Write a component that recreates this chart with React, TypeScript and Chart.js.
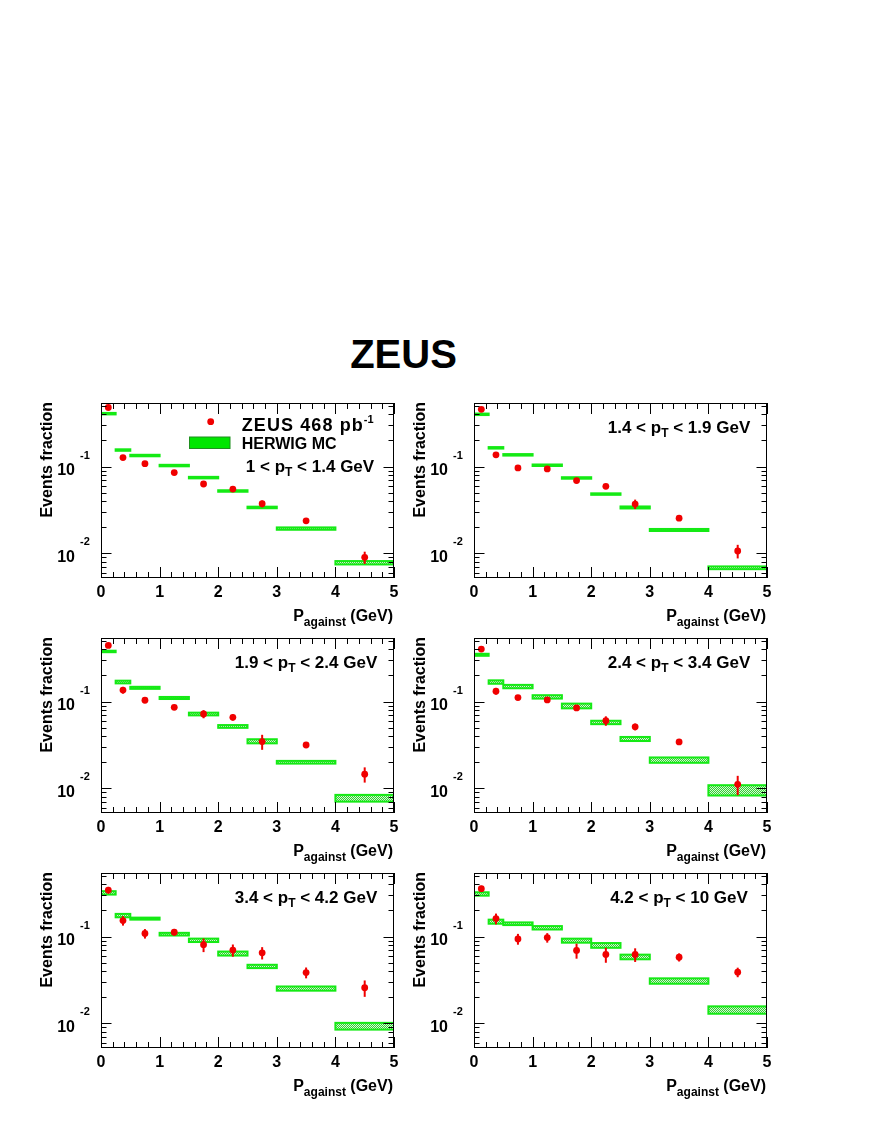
import React, { useEffect, useRef } from "react";
import { Chart, registerables } from "chart.js";
Chart.register(...registerables);

const FONT = '"Liberation Sans", Arial, Helvetica, sans-serif';
const RED = "#f00000";
const GREEN = "#14ea14";

// ---- data ----
const binEdges = [0, 0.25, 0.5, 1, 1.5, 2, 2.5, 3, 4, 5];
const binCenters = [0.125, 0.375, 0.75, 1.25, 1.75, 2.25, 2.75, 3.5, 4.5];
const xTickValues = [0, 1, 2, 3, 4, 5];
const yLabelExponents = [-2, -1];
const ptLow = ["1", "1.4", "1.9", "2.4", "3.4", "4.2"];
const ptHigh = ["1.4", "1.9", "2.4", "3.4", "4.2", "10"];
const yRange = [0.0052, 0.54];

const zeus1 = [0.479, 0.127, 0.108, 0.0853, 0.063, 0.0551, 0.0373, 0.0237, 0.009];
const zeusErr1 = [0.0128, 0.0045, 0.0029, 0.0023, 0.0017, 0.002, 0.0033, 0.0013, 0.00145];
const mc1 = [0.407, 0.155, 0.134, 0.1027, 0.0746, 0.0523, 0.0338, 0.0193, 0.0078];
const mcErr1 = [0.006, 0.0025, 0.002, 0.0016, 0.0012, 0.0009, 0.0007, 0.0006, 0.00035];

const zeus2 = [0.457, 0.1365, 0.0965, 0.094, 0.0689, 0.0592, 0.037, 0.0254, 0.01064];
const zeusErr2 = [0.0122, 0.0049, 0.0026, 0.0025, 0.0025, 0.0021, 0.0046, 0.0018, 0.0019];
const mc2 = [0.4, 0.1644, 0.1365, 0.1036, 0.0739, 0.0482, 0.0338, 0.0186, 0.00682];
const mcErr2 = [0.006, 0.0026, 0.002, 0.0016, 0.0012, 0.0008, 0.0009, 0.0005, 0.00025];

const zeus3 = [0.443, 0.1355, 0.1036, 0.0859, 0.0719, 0.0658, 0.0346, 0.0316, 0.01455];
const zeusErr3 = [0.0158, 0.0121, 0.0056, 0.0054, 0.0077, 0.0053, 0.0068, 0.002, 0.0029];
const mc3 = [0.378, 0.168, 0.144, 0.11, 0.0719, 0.0517, 0.0349, 0.02, 0.00772];
const mcErr3 = [0.0068, 0.006, 0.0039, 0.003, 0.0026, 0.0019, 0.0019, 0.00072, 0.00069];

const zeus4 = [0.403, 0.1318, 0.1113, 0.1045, 0.0844, 0.0601, 0.0512, 0.0343, 0.01114];
const zeusErr4 = [0.0144, 0.0118, 0.005, 0.0037, 0.006, 0.0075, 0.0046, 0.0024, 0.0028];
const mc4 = [0.346, 0.168, 0.149, 0.1133, 0.0891, 0.0575, 0.0371, 0.0212, 0.00957];
const mcErr4 = [0.0093, 0.0076, 0.0067, 0.0051, 0.0056, 0.0026, 0.002, 0.0015, 0.0013];

const zeus5 = [0.343, 0.1528, 0.1084, 0.1124, 0.0806, 0.0698, 0.065, 0.0385, 0.0257];
const zeusErr5 = [0.0306, 0.0191, 0.0136, 0.01, 0.0144, 0.0112, 0.0105, 0.0055, 0.0055];
const mc5 = [0.319, 0.1746, 0.161, 0.1066, 0.0906, 0.0638, 0.0453, 0.0252, 0.0093];
const mcErr5 = [0.0144, 0.0079, 0.0043, 0.0038, 0.0041, 0.0034, 0.002, 0.0014, 0.00083];

const zeus6 = [0.356, 0.161, 0.094, 0.0973, 0.0692, 0.0621, 0.0621, 0.0578, 0.0389];
const zeusErr6 = [0.0286, 0.023, 0.0134, 0.0122, 0.0136, 0.0122, 0.0111, 0.0062, 0.0049];
const mc6 = [0.31, 0.1486, 0.1406, 0.1263, 0.0898, 0.0792, 0.0583, 0.0308, 0.0143];
const mcErr6 = [0.014, 0.008, 0.005, 0.0057, 0.0048, 0.005, 0.0036, 0.0022, 0.0014];

const ZEUS_VALUES = [zeus1, zeus2, zeus3, zeus4, zeus5, zeus6];
const ZEUS_ERRS = [zeusErr1, zeusErr2, zeusErr3, zeusErr4, zeusErr5, zeusErr6];
const MC_VALUES = [mc1, mc2, mc3, mc4, mc5, mc6];
const MC_ERRS = [mcErr1, mcErr2, mcErr3, mcErr4, mcErr5, mcErr6];

// ---- layout ----
const COL_LEFT = [101, 474];
const ROW_TOP = [403, 638, 873];
const PLOT_W = 293;
const PLOT_H = 175;
const PAD_L = 80;
const PAD_T = 12;
const PAD_R = 14;
const XAXIS_H = 60;
const CW = PAD_L + PLOT_W + PAD_R;
const CH = PAD_T + PLOT_H + XAXIS_H;

type Run = { text: string; size: number; dy: number; ls?: number };

function runWidth(ctx: any, r: Run) {
  ctx.font = `bold ${r.size}px ${FONT}`;
  return ctx.measureText(r.text).width + (r.ls || 0) * r.text.length;
}

function drawRuns(ctx: any, runs: Run[], x: number, y: number, align: string) {
  let total = 0;
  for (const r of runs) total += runWidth(ctx, r);
  let cx = align === "right" ? x - total : align === "center" ? x - total / 2 : x;
  ctx.textAlign = "left";
  ctx.textBaseline = "alphabetic";
  for (const r of runs) {
    ctx.font = `bold ${r.size}px ${FONT}`;
    if (r.ls) {
      for (const ch of r.text) {
        ctx.fillText(ch, cx, y + r.dy);
        cx += ctx.measureText(ch).width + r.ls;
      }
    } else {
      ctx.fillText(r.text, cx, y + r.dy);
      cx += ctx.measureText(r.text).width;
    }
  }
}

function makePattern(): any {
  const c = document.createElement("canvas");
  c.width = 2;
  c.height = 2;
  const g = c.getContext("2d");
  if (!g) return GREEN;
  g.fillStyle = "#2fd82f";
  g.fillRect(0, 0, 2, 2);
  g.fillStyle = "#d6f0d6";
  g.fillRect(0, 0, 1, 1);
  g.fillRect(1, 1, 1, 1);
  const p = g.createPattern(c, "repeat");
  return p || GREEN;
}

function makeDecor(i: number, pattern: any) {
  const mc = MC_VALUES[i];
  const mcErr = MC_ERRS[i];
  const zv = ZEUS_VALUES[i];
  const ze = ZEUS_ERRS[i];
  return {
    id: "decor" + i,
    beforeDatasetsDraw(chart: any) {
      const { ctx, chartArea: a } = chart;
      const x = chart.scales.x;
      const y = chart.scales.y;
      ctx.save();
      ctx.beginPath();
      ctx.rect(a.left, a.top, a.right - a.left, a.bottom - a.top);
      ctx.clip();
      for (let k = 0; k < mc.length; k++) {
        const x0 = x.getPixelForValue(binEdges[k]);
        const x1 = x.getPixelForValue(binEdges[k + 1]);
        let yt = y.getPixelForValue(mc[k] + mcErr[k]);
        let yb = y.getPixelForValue(mc[k] - mcErr[k]);
        if (yb - yt < 1.5) {
          const c = (yt + yb) / 2;
          yt = c - 0.75;
          yb = c + 0.75;
        }
        ctx.fillStyle = pattern;
        ctx.fillRect(x0, yt, x1 - x0, yb - yt);
        ctx.strokeStyle = GREEN;
        ctx.lineWidth = 2;
        ctx.strokeRect(x0, yt, x1 - x0, yb - yt);
      }
      ctx.strokeStyle = RED;
      ctx.lineWidth = 2;
      for (let k = 0; k < zv.length; k++) {
        const px = x.getPixelForValue(binCenters[k]);
        ctx.beginPath();
        ctx.moveTo(px, y.getPixelForValue(zv[k] + ze[k]));
        ctx.lineTo(px, y.getPixelForValue(zv[k] - ze[k]));
        ctx.stroke();
      }
      ctx.restore();
    },
    afterDraw(chart: any) {
      const { ctx, chartArea: a } = chart;
      const x = chart.scales.x;
      const y = chart.scales.y;
      ctx.save();
      ctx.strokeStyle = "#000";
      ctx.fillStyle = "#000";
      ctx.lineWidth = 1;
      // frame
      ctx.strokeRect(a.left + 0.5, a.top + 0.5, a.right - a.left - 1, a.bottom - a.top - 1);
      // x ticks (bottom and top, inward)
      ctx.beginPath();
      for (let t = 0; t <= 25; t++) {
        const v = t * 0.2;
        const px = Math.round(x.getPixelForValue(v)) + 0.5;
        const len = t % 5 === 0 ? 11 : 6;
        ctx.moveTo(px, a.bottom);
        ctx.lineTo(px, a.bottom - len);
        ctx.moveTo(px, a.top);
        ctx.lineTo(px, a.top + len);
      }
      // y ticks (left and right, inward)
      for (let e = -3; e <= 0; e++) {
        for (let m = 1; m <= 9; m++) {
          const v = m * Math.pow(10, e);
          if (v < y.min || v > y.max) continue;
          const py = Math.round(y.getPixelForValue(v)) + 0.5;
          const len = m === 1 ? 10.5 : 5.5;
          ctx.moveTo(a.left, py);
          ctx.lineTo(a.left + len, py);
          ctx.moveTo(a.right, py);
          ctx.lineTo(a.right - len, py);
        }
      }
      ctx.stroke();
      // y labels 10^n
      for (const e of yLabelExponents) {
        const py = y.getPixelForValue(Math.pow(10, e));
        ctx.font = `bold 16px ${FONT}`;
        ctx.textAlign = "right";
        ctx.textBaseline = "alphabetic";
        ctx.fillText("10", a.left - 26, py + 8.5);
        ctx.font = `bold 11px ${FONT}`;
        ctx.textAlign = "left";
        ctx.fillText(String(e), a.left - 21, py - 8);
      }
      // y title
      ctx.save();
      ctx.translate(a.left - 49, a.top - 1);
      ctx.rotate(-Math.PI / 2);
      ctx.font = `bold 16px ${FONT}`;
      ctx.textAlign = "right";
      ctx.textBaseline = "alphabetic";
      ctx.fillText("Events fraction", 0, 0);
      ctx.restore();
      // x title
      drawRuns(
        ctx,
        [
          { text: "P", size: 16, dy: 0 },
          { text: "against", size: 12, dy: 5 },
          { text: " (GeV)", size: 16, dy: 0 },
        ],
        a.right - 1,
        a.bottom + 43,
        "right"
      );
      // pT label
      const ptRuns = [
        { text: `${ptLow[i]} < p`, size: 17, dy: 0 },
        { text: "T", size: 12, dy: 4 },
        { text: ` < ${ptHigh[i]} GeV`, size: 17, dy: 0 },
      ];
      if (i === 0) {
        drawRuns(ctx, ptRuns, a.left + 209, a.top + 69, "center");
        // legend
        ctx.fillStyle = RED;
        ctx.beginPath();
        ctx.arc(a.left + 109.7, a.top + 18.7, 3.4, 0, Math.PI * 2);
        ctx.fill();
        ctx.fillStyle = "#00e600";
        ctx.fillRect(a.left + 88.5, a.top + 34, 40.5, 11.5);
        ctx.strokeStyle = "#1f8f1f";
        ctx.lineWidth = 1;
        ctx.strokeRect(a.left + 88.5, a.top + 34, 40.5, 11.5);
        ctx.fillStyle = "#000";
        drawRuns(
          ctx,
          [
            { text: "ZEUS 468 pb", size: 18, dy: 0, ls: 1.1 },
            { text: "-1", size: 11, dy: -8 },
          ],
          a.left + 140.7,
          a.top + 28,
          "left"
        );
        drawRuns(ctx, [{ text: "HERWIG MC", size: 16, dy: 0 }], a.left + 140.7, a.top + 46.3, "left");
      } else {
        drawRuns(ctx, ptRuns, a.left + 205, a.top + 30, "center");
      }
      ctx.restore();
    },
  };
}

function Panel({ idx }: { idx: number }) {
  const ref = useRef<HTMLCanvasElement>(null);
  useEffect(() => {
    const canvas = ref.current;
    if (!canvas) return;
    const pattern = makePattern();
    const zv = ZEUS_VALUES[idx];
    const chart = new Chart(canvas, {
      type: "scatter",
      data: {
        datasets: [
          {
            label: "ZEUS 468 pb-1",
            data: binCenters.map((xv, k) => ({ x: xv, y: zv[k] })),
            backgroundColor: RED,
            borderColor: RED,
            borderWidth: 0,
            pointRadius: 3.4,
            pointHoverRadius: 3.4,
            showLine: false,
            clip: false as any,
          },
        ],
      },
      options: {
        responsive: false,
        animation: false,
        devicePixelRatio: 1,
        layout: { padding: { left: PAD_L, top: PAD_T, right: PAD_R, bottom: 0 } },
        plugins: { legend: { display: false }, tooltip: { enabled: false } },
        events: [],
        scales: {
          x: {
            type: "linear",
            position: "bottom",
            min: xTickValues[0],
            max: xTickValues[xTickValues.length - 1],
            afterBuildTicks: (s: any) => {
              s.ticks = xTickValues.map((v) => ({ value: v }));
            },
            afterFit: (s: any) => {
              s.height = XAXIS_H;
            },
            ticks: {
              color: "#000",
              padding: 5,
              maxRotation: 0,
              autoSkip: false,
              font: { family: FONT, size: 16, weight: "bold" },
              callback: (v: any) => String(v),
            },
            grid: { display: false, drawTicks: false },
            border: { display: false },
          },
          y: {
            type: "logarithmic",
            display: false,
            min: yRange[0],
            max: yRange[1],
          },
        },
      } as any,
      plugins: [makeDecor(idx, pattern)],
    });
    return () => chart.destroy();
  }, [idx]);
  const col = idx % 2;
  const row = Math.floor(idx / 2);
  return (
    <canvas
      ref={ref}
      width={CW}
      height={CH}
      style={{
        position: "absolute",
        left: COL_LEFT[col] - PAD_L,
        top: ROW_TOP[row] - PAD_T,
        width: CW,
        height: CH,
      }}
    />
  );
}

export default function App() {
  return (
    <div style={{ position: "absolute", left: 0, top: 0, width: 872, height: 1128, background: "#fff" }}>
      <div
        style={{
          position: "absolute",
          left: 0,
          top: 333.8,
          width: 807,
          textAlign: "center",
          font: `bold 40px ${FONT}`,
          lineHeight: "40px",
          color: "#000",
        }}
      >
        ZEUS
      </div>
      {[0, 1, 2, 3, 4, 5].map((i) => (
        <Panel key={i} idx={i} />
      ))}
    </div>
  );
}
